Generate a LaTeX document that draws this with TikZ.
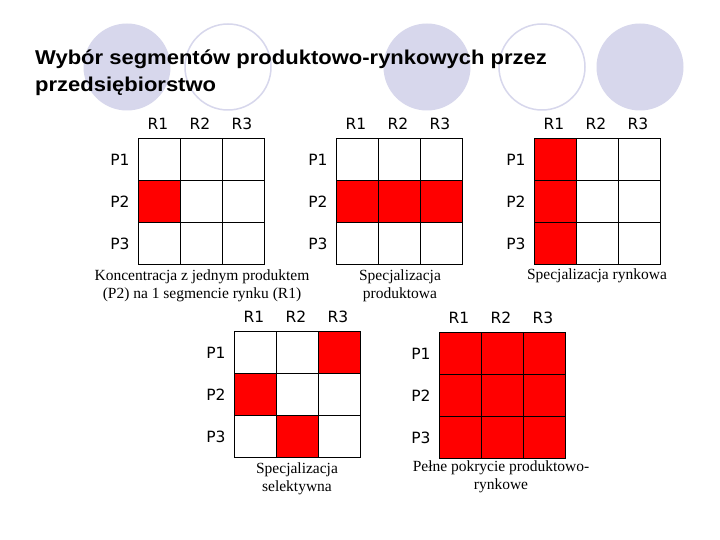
\documentclass[tikz,border=0pt]{standalone}
\usepackage{fontspec}
\setmainfont{Liberation Serif}
\newfontfamily\headfont{Liberation Sans}[FakeStretch=1.1]
\newfontfamily\labelfont{DejaVu Sans}
\usetikzlibrary{positioning}
\definecolor{lavender}{RGB}{215,215,236}
\definecolor{hotred}{RGB}{255,0,0}
\tikzset{cell/.style={draw,minimum size=42pt,inner sep=0pt,line width=0.9pt},
  hot/.style={cell,fill=hotred},
  axis/.style={font=\labelfont\fontsize{15.5}{16}\selectfont,inner sep=0pt},
  caption/.style={font=\fontsize{15.5}{18}\selectfont,align=center,inner sep=0pt},
  headline/.style={anchor=base west,inner sep=0pt,font=\headfont\bfseries\fontsize{20}{27}\selectfont},
  blob/.style={circle,fill=lavender,minimum size=87pt,inner sep=0pt},
  ring/.style={circle,draw=lavender,line width=1.5pt,minimum size=86pt,inner sep=0pt}}

\begin{document}
\begin{tikzpicture}[x=1pt,y=-1pt]
    \useasboundingbox[fill=white] (0,0) rectangle (720,540);

    % background circles
    \node[blob] (c1) at (127,67) {};
    \node[ring] (c2) at (228,67) {};
    \node[blob] (c3) at (427,67) {};
    \node[ring] (c4) at (542,67) {};
    \node[blob] (c5) at (640,67) {};

    \node[headline] (t1) at (35,65) {Wybór segmentów produktowo-rynkowych przez};
    \node[headline] (t2) at (35,92) {przedsiębiorstwo};

    % grids: number / left / top
    \foreach \g/\x/\y in {1/138/138,2/336/138,3/534/138,4/234/331,5/439/332}{
      \foreach \r in {1,2,3}{
        \foreach \c in {1,2,3}{
          \node[cell] (g\g-\r\c) at ({\x+42*\c-21},{\y+42*\r-21}) {};
        }
        \node[axis] (g\g-p\r) at ({\x-18},{\y+42*\r-20}) {P\r};
        \node[axis] (g\g-h\r) at ({\x+42*\r-22},{\y-14}) {R\r};
      }
    }

    % chosen segments
    \foreach \n in {g1-21,g2-21,g2-22,g2-23,g3-11,g3-21,g3-31,g4-13,g4-21,g4-32,
                    g5-11,g5-12,g5-13,g5-21,g5-22,g5-23,g5-31,g5-32,g5-33}{
      \node[hot] (\n-on) at (\n) {};
    }

    \node[caption] (cap1) at (202,286) {Koncentracja z jednym produktem\\(P2) na 1 segmencie rynku (R1)};
    \node[caption] (cap2) at (400,286) {Specjalizacja\\produktowa};
    \node[caption] (cap3) at (597,276) {Specjalizacja rynkowa};
    \node[caption] (cap4) at (297,479) {Specjalizacja\\selektywna};
    \node[caption] (cap5) at (501,477) {Pełne pokrycie produktowo-\\rynkowe};
\end{tikzpicture}
\end{document}
